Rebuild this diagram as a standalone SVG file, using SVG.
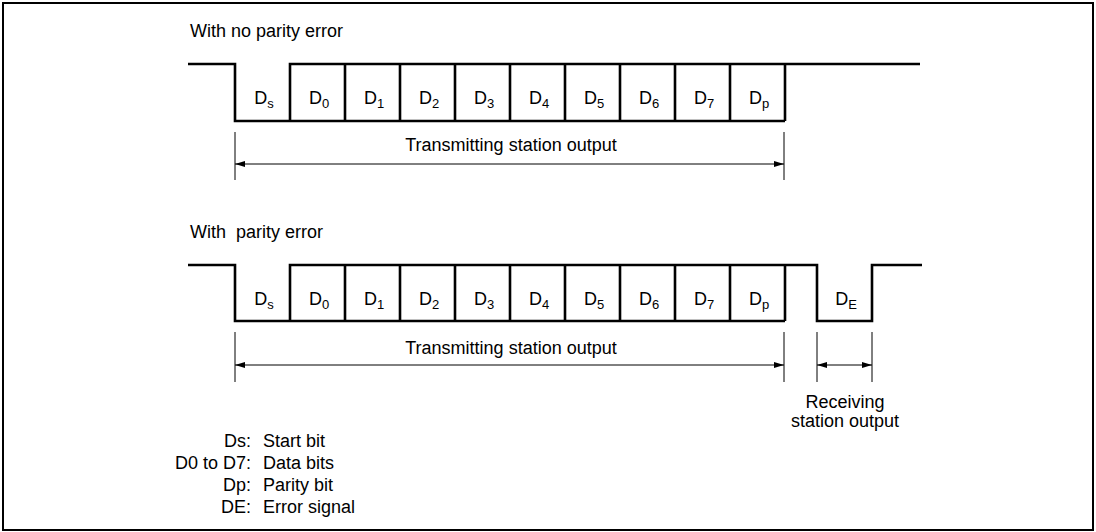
<svg xmlns="http://www.w3.org/2000/svg" width="1096" height="532" viewBox="0 0 1096 532">
<defs>
<style>
text{font-family:"Liberation Sans",Arial,sans-serif;fill:#000}
.t{font-size:18px}
.d{font-size:18px;text-anchor:middle}
.sub{font-size:13px}
.sig{fill:none;stroke:#000;stroke-width:2.6;stroke-linejoin:miter}
.dim{fill:none;stroke:#000;stroke-width:1}
</style>
<marker id="ah" viewBox="0 0 10 6" refX="10" refY="3" markerWidth="10" markerHeight="6" markerUnits="userSpaceOnUse" orient="auto-start-reverse">
<path d="M0 0 L10 3 L0 6 Z" fill="#000"/>
</marker>
</defs>
<rect x="3" y="3" width="1090" height="527" fill="#fff" stroke="#000" stroke-width="2"/>

<g id="frame-no-error">
<text class="t" x="190" y="37">With no parity error</text>
<path class="sig" d="M188 64 H235 V121 H785"/>
<path class="sig" d="M290 121 V64 H920"/>
<path class="sig" d="M345 64 V121 M400 64 V121 M455 64 V121 M510 64 V121 M565 64 V121 M620 64 V121 M675 64 V121 M730 64 V121 M785 64 V121"/>
<text class="d" x="264" y="104">D<tspan class="sub" dy="4">s</tspan></text>
<text class="d" x="319" y="104">D<tspan class="sub" dy="4">0</tspan></text>
<text class="d" x="374" y="104">D<tspan class="sub" dy="4">1</tspan></text>
<text class="d" x="429" y="104">D<tspan class="sub" dy="4">2</tspan></text>
<text class="d" x="484" y="104">D<tspan class="sub" dy="4">3</tspan></text>
<text class="d" x="539" y="104">D<tspan class="sub" dy="4">4</tspan></text>
<text class="d" x="594" y="104">D<tspan class="sub" dy="4">5</tspan></text>
<text class="d" x="649" y="104">D<tspan class="sub" dy="4">6</tspan></text>
<text class="d" x="704" y="104">D<tspan class="sub" dy="4">7</tspan></text>
<text class="d" x="759" y="104">D<tspan class="sub" dy="4">p</tspan></text>
<text class="t" x="511" y="151" text-anchor="middle">Transmitting station output</text>
</g>

<g id="frame-parity-error">
<text class="t" x="190" y="238" xml:space="preserve">With  parity error</text>
<path class="sig" d="M188 265 H235 V321 H785"/>
<path class="sig" d="M290 321 V265 H817 V321 H872 V265 H922"/>
<path class="sig" d="M345 265 V321 M400 265 V321 M455 265 V321 M510 265 V321 M565 265 V321 M620 265 V321 M675 265 V321 M730 265 V321 M785 265 V321"/>
<text class="d" x="264" y="305">D<tspan class="sub" dy="4">s</tspan></text>
<text class="d" x="319" y="305">D<tspan class="sub" dy="4">0</tspan></text>
<text class="d" x="374" y="305">D<tspan class="sub" dy="4">1</tspan></text>
<text class="d" x="429" y="305">D<tspan class="sub" dy="4">2</tspan></text>
<text class="d" x="484" y="305">D<tspan class="sub" dy="4">3</tspan></text>
<text class="d" x="539" y="305">D<tspan class="sub" dy="4">4</tspan></text>
<text class="d" x="594" y="305">D<tspan class="sub" dy="4">5</tspan></text>
<text class="d" x="649" y="305">D<tspan class="sub" dy="4">6</tspan></text>
<text class="d" x="704" y="305">D<tspan class="sub" dy="4">7</tspan></text>
<text class="d" x="759" y="305">D<tspan class="sub" dy="4">p</tspan></text>
<text class="d" x="846" y="305">D<tspan class="sub" dy="4">E</tspan></text>
<text class="t" x="511" y="354" text-anchor="middle">Transmitting station output</text>
<text class="t" x="845" y="408" text-anchor="middle">Receiving</text>
<text class="t" x="845" y="427" text-anchor="middle">station output</text>
</g>

<g id="connectors">
<path class="dim" d="M235 132 V180 M784 132 V180"/>
<line class="dim" x1="235" y1="164" x2="784" y2="164" marker-start="url(#ah)" marker-end="url(#ah)"/>
<path class="dim" d="M235 332 V382 M784 332 V382 M817 332 V382 M872 332 V382"/>
<line class="dim" x1="235" y1="365" x2="784" y2="365" marker-start="url(#ah)" marker-end="url(#ah)"/>
<line class="dim" x1="817" y1="365" x2="872" y2="365" marker-start="url(#ah)" marker-end="url(#ah)"/>
</g>

<g id="legend">
<text class="t" x="251" y="447" text-anchor="end">Ds:</text>
<text class="t" x="263" y="447">Start bit</text>
<text class="t" x="251" y="469" text-anchor="end">D0 to D7:</text>
<text class="t" x="263" y="469">Data bits</text>
<text class="t" x="251" y="491" text-anchor="end">Dp:</text>
<text class="t" x="263" y="491">Parity bit</text>
<text class="t" x="251" y="513" text-anchor="end">DE:</text>
<text class="t" x="263" y="513">Error signal</text>
</g>
</svg>
